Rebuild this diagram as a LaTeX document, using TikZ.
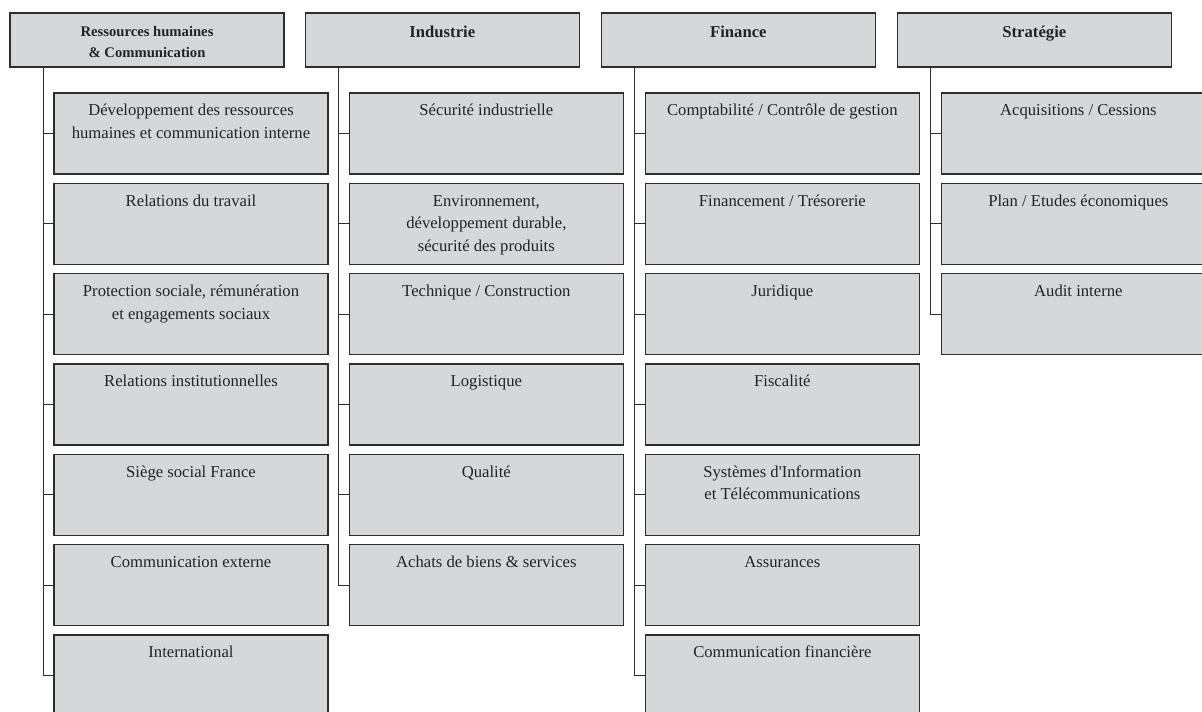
\documentclass[tikz,border=0pt]{standalone}
\usepackage{fontspec}
\setmainfont{Liberation Serif}
\usetikzlibrary{positioning}
\definecolor{boxgray}{RGB}{214,215,217}
\definecolor{linegray}{RGB}{45,45,45}
\definecolor{textgray}{RGB}{35,35,35}

\begin{document}
\begin{tikzpicture}[x=0.75pt,y=-0.75pt,
    box/.style={draw=linegray,fill=boxgray,line width=1.2pt,inner sep=0pt,outer sep=0pt,minimum width=205.5pt},
    head/.style={box,minimum height=40.5pt},
    unit/.style={box,minimum height=60.75pt,label={[unittxt]north:{\begin{tabular}[t]{@{}c@{}}#1\end{tabular}}}},
    headtxt/.style={anchor=base,yshift=-18pt,inner sep=0pt,text=textgray,font=\fontsize{12.5}{17}\selectfont\bfseries},
    unittxt/.style={anchor=base,yshift=-17pt,inner sep=0pt,text=textgray,font=\fontsize{12.5}{17}\selectfont},
    link/.style={draw=linegray,line width=0.8pt}]
            \useasboundingbox (0,0) rectangle (1202,711);
            \clip (0,0) rectangle (1202,711);

            \node [head,anchor=north west,
                label={[headtxt,yshift=0.75pt,font=\fontsize{11}{15.75}\selectfont\bfseries]north:{\begin{tabular}[t]{@{}c@{}}Ressources humaines\\\& Communication\end{tabular}}}]
                (rh) at (10,13) {};
            \node [head,right=16pt of rh,label={[headtxt]north:Industrie}] (ind) {};
            \node [head,right=16.5pt of ind,label={[headtxt]north:Finance}] (fin) {};
            \node [head,right=16.5pt of fin,label={[headtxt]north:Stratégie}] (strat) {};

            % Ressources humaines & Communication
            \node [unit={Développement des ressources\\humaines et communication interne},
                below=19.5pt of rh.south west,anchor=north west,xshift=33pt] (rh1) {};
            \node [unit={Relations du travail},below=7pt of rh1] (rh2) {};
            \node [unit={Protection sociale, rémunération\\et engagements sociaux},below=7pt of rh2] (rh3) {};
            \node [unit={Relations institutionnelles},below=7pt of rh3] (rh4) {};
            \node [unit={Siège social France},below=7pt of rh4] (rh5) {};
            \node [unit={Communication externe},below=7pt of rh5] (rh6) {};
            \node [unit={International},below=7pt of rh6] (rh7) {};

            % Industrie
            \node [unit={Sécurité industrielle},
                below=19.5pt of ind.south west,anchor=north west,xshift=33pt] (ind1) {};
            \node [unit={Environnement,\\développement durable,\\sécurité des produits},below=7pt of ind1] (ind2) {};
            \node [unit={Technique / Construction},below=7pt of ind2] (ind3) {};
            \node [unit={Logistique},below=7pt of ind3] (ind4) {};
            \node [unit={Qualité},below=7pt of ind4] (ind5) {};
            \node [unit={Achats de biens \& services},below=7pt of ind5] (ind6) {};

            % Finance
            \node [unit={Comptabilité / Contrôle de gestion},
                below=19.5pt of fin.south west,anchor=north west,xshift=33pt] (fin1) {};
            \node [unit={Financement / Trésorerie},below=7pt of fin1] (fin2) {};
            \node [unit={Juridique},below=7pt of fin2] (fin3) {};
            \node [unit={Fiscalité},below=7pt of fin3] (fin4) {};
            \node [unit={Systèmes d\textquotesingle Information\\et Télécommunications},below=7pt of fin4] (fin5) {};
            \node [unit={Assurances},below=7pt of fin5] (fin6) {};
            \node [unit={Communication financière},below=7pt of fin6] (fin7) {};

            % Stratégie
            \node [unit={Acquisitions / Cessions},
                below=19.5pt of strat.south west,anchor=north west,xshift=33pt] (strat1) {};
            \node [unit={Plan / Etudes économiques},below=7pt of strat1] (strat2) {};
            \node [unit={Audit interne},below=7pt of strat2] (strat3) {};

            \coordinate (rhT) at ([xshift=25pt]rh.south west);
            \coordinate (indT) at ([xshift=25pt]ind.south west);
            \coordinate (finT) at ([xshift=25pt]fin.south west);
            \coordinate (stratT) at ([xshift=25pt]strat.south west);

            \draw [link] (rhT) |- (rh1.west);
            \draw [link] (rhT) |- (rh2.west);
            \draw [link] (rhT) |- (rh3.west);
            \draw [link] (rhT) |- (rh4.west);
            \draw [link] (rhT) |- (rh5.west);
            \draw [link] (rhT) |- (rh6.west);
            \draw [link] (rhT) |- (rh7.west);
            \draw [link] (indT) |- (ind1.west);
            \draw [link] (indT) |- (ind2.west);
            \draw [link] (indT) |- (ind3.west);
            \draw [link] (indT) |- (ind4.west);
            \draw [link] (indT) |- (ind5.west);
            \draw [link] (indT) |- (ind6.west);
            \draw [link] (finT) |- (fin1.west);
            \draw [link] (finT) |- (fin2.west);
            \draw [link] (finT) |- (fin3.west);
            \draw [link] (finT) |- (fin4.west);
            \draw [link] (finT) |- (fin5.west);
            \draw [link] (finT) |- (fin6.west);
            \draw [link] (finT) |- (fin7.west);
            \draw [link] (stratT) |- (strat1.west);
            \draw [link] (stratT) |- (strat2.west);
            \draw [link] (stratT) |- (strat3.west);
\end{tikzpicture}
\end{document}
